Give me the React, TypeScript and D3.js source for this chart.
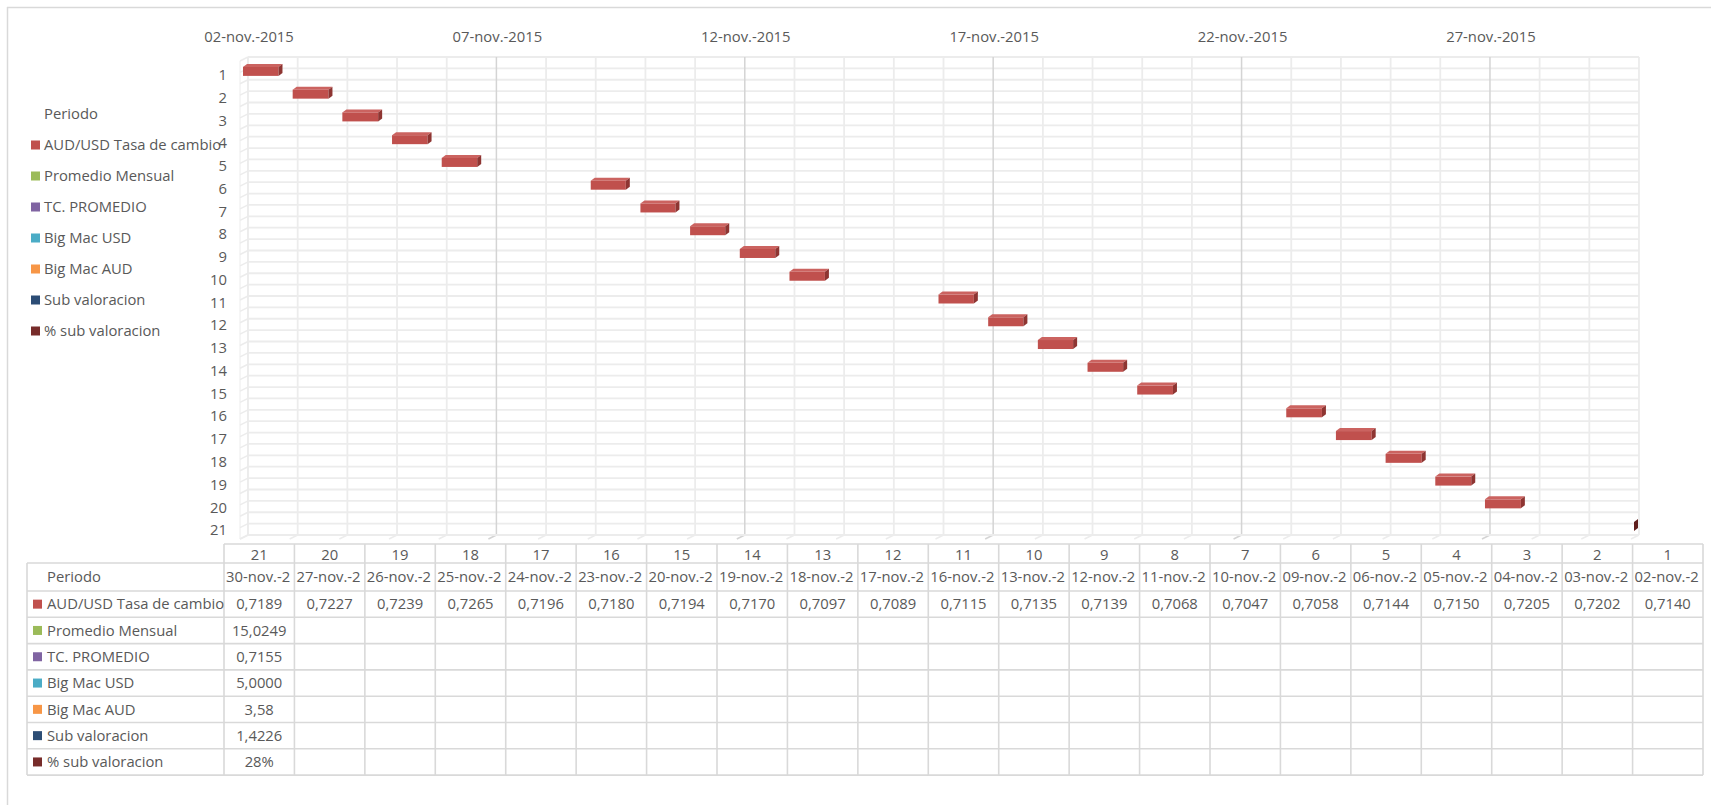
import React from "react";
import * as d3 from "d3";

// ---------- DATA ----------
const periods: number[] = [21, 20, 19, 18, 17, 16, 15, 14, 13, 12, 11, 10, 9, 8, 7, 6, 5, 4, 3, 2, 1];
const dates: string[] = [
  "2015-11-30", "2015-11-27", "2015-11-26", "2015-11-25", "2015-11-24", "2015-11-23", "2015-11-20",
  "2015-11-19", "2015-11-18", "2015-11-17", "2015-11-16", "2015-11-13", "2015-11-12", "2015-11-11",
  "2015-11-10", "2015-11-09", "2015-11-06", "2015-11-05", "2015-11-04", "2015-11-03", "2015-11-02",
];
const audUsd: number[] = [
  0.7189, 0.7227, 0.7239, 0.7265, 0.7196, 0.718, 0.7194, 0.717, 0.7097, 0.7089, 0.7115,
  0.7135, 0.7139, 0.7068, 0.7047, 0.7058, 0.7144, 0.715, 0.7205, 0.7202, 0.714,
];
const seriesNames: string[] = [
  "AUD/USD Tasa de cambio", "Promedio Mensual", "TC. PROMEDIO", "Big Mac USD",
  "Big Mac AUD", "Sub valoracion", "% sub valoracion",
];
const seriesColors: string[] = ["#C0504D", "#9BBB59", "#8064A2", "#4BACC6", "#F79646", "#2C4D75", "#772C2A"];
// single values that exist only for period 21
const singleValues: string[] = ["15,0249", "0,7155", "5,0000", "3,58", "1,4226", "28%"];
const axisStart = "2015-11-02";
const axisEnd = "2015-11-30";
const monthAbbr = "nov.";

// ---------- LAYOUT ----------
const W = 1711;
const H = 805;
const PX0 = 248, PX1 = 1639, PY0 = 57, PY1 = 535;
const FONT = "'Open Sans', sans-serif";
const FS = 14.8;
const TXT = "#595959";
const GRID = "#ececec";
const GRID_MAJ = "#d4d4d4";
const TBL = "#d9d9d9";

const parse = (s: string) => new Date(s + "T00:00:00Z");
const fmtDate = (d: Date) =>
  `${String(d.getUTCDate()).padStart(2, "0")}-${monthAbbr}-${d.getUTCFullYear()}`;
const fmtNum = (v: number) => v.toFixed(4).replace(".", ",");

export default function App() {
  const x = d3.scaleUtc().domain([parse(axisStart), parse(axisEnd)]).range([PX0, PX1]);
  const rows = periods.slice().sort((a, b) => a - b).map(String);
  const y = d3.scaleBand<string>().domain(rows).range([PY0, PY1]);
  const band = y.bandwidth();
  const dayTicks = x.ticks(d3.utcDay.every(1)!);

  const hLines: number[] = [];
  for (let k = 0; k <= rows.length * 2; k++) hLines.push(PY0 + (k * band) / 2);

  const tX0 = 27, cX0 = 224, cX1 = 1703;
  const colW = (cX1 - cX0) / periods.length;
  const hdrTop = 544, hdrBot = 563, perBot = 591, rowH = 26.3;
  const rowTops = seriesNames.map((_, i) => perBot + i * rowH);
  const tBottom = perBot + seriesNames.length * rowH;

  const dx = 4, dy = -3, barH = 9;

  return (
    <svg width={W} height={H} style={{ position: "absolute", left: 0, top: 0, background: "#fff" }} fontFamily={FONT}>
      <line x1={7} y1={7.5} x2={W} y2={7.5} stroke={TBL} strokeWidth={1.5} />
      <line x1={7.5} y1={7} x2={7.5} y2={H} stroke={TBL} strokeWidth={1.5} />

      {hLines.map((yy, k) => (
        <g key={"h" + k}>
          <line x1={PX0} x2={PX1} y1={yy} y2={yy} stroke={GRID} strokeWidth={1.8} />
          <line x1={PX0} x2={PX0 - 8} y1={yy} y2={yy + 4} stroke={GRID} strokeWidth={1.5} />
        </g>
      ))}
      {dayTicks.map((d, i) => {
        const xx = x(d);
        const major = i % 5 === 0 && i > 0;
        return (
          <g key={"v" + i}>
            <line x1={xx} x2={xx} y1={PY0} y2={PY1} stroke={major ? GRID_MAJ : GRID} strokeWidth={major ? 1.5 : 1.8} />
            <line x1={xx} x2={xx - 8} y1={PY1} y2={PY1 + 4} stroke={major ? GRID_MAJ : GRID} strokeWidth={1.5} />
          </g>
        );
      })}
      <line x1={PX0} x2={PX0} y1={PY0} y2={PY1} stroke={GRID} strokeWidth={1.8} />
      <line x1={PX0} x2={PX1} y1={PY1} y2={PY1} stroke={GRID} strokeWidth={1.8} />
      <line x1={PX0 - 8} x2={PX0 - 8} y1={PY0 + 4} y2={PY1 + 4} stroke={GRID} strokeWidth={1} />

      {dayTicks.filter((_, i) => i % 5 === 0).map((d, i) => (
        <text key={"t" + i} x={x(d) + 1} y={37} dy="0.35em" textAnchor="middle" fontSize={FS} fill={TXT}>
          {fmtDate(d)}
        </text>
      ))}

      {rows.map((r) => (
        <text key={"c" + r} x={227} y={(y(r) as number) + band / 2 + 6.5} dy="0.35em" textAnchor="end" fontSize={FS} fill={TXT}>
          {r}
        </text>
      ))}

      {periods.map((p, j) => {
        const start = parse(dates[j]);
        const end = new Date(start.getTime() + audUsd[j] * 86400000);
        const sx = x(start);
        const ex = Math.min(x(end), PX1);
        const w = Math.max(0, ex - sx);
        const fx = sx - 5;
        const fy = (y(String(p)) as number) + band / 2 + 3 - barH / 2;
        const clipped = x(end) > PX1;
        const top = `${fx},${fy} ${fx + dx},${fy + dy} ${fx + w + dx},${fy + dy} ${fx + w},${fy}`;
        const side = `${fx + w},${fy} ${fx + w + dx},${fy + dy} ${fx + w + dx},${fy + barH + dy} ${fx + w},${fy + barH}`;
        return (
          <g key={"b" + j}>
            {w > 0 && <rect x={fx} y={fy} width={w} height={barH} fill={seriesColors[0]} />}
            {w > 0 && <polygon points={top} fill="#CB6360" />}
            <polygon points={side} fill={clipped ? "#5e1d1b" : "#8E3532"} />
          </g>
        );
      })}

      <text x={44} y={114} dy="0.35em" fontSize={FS} fill={TXT}>Periodo</text>
      {seriesNames.map((s, i) => (
        <g key={"l" + i}>
          <rect x={31} y={145 + i * 31 - 4.5} width={9} height={9} fill={seriesColors[i]} />
          <text x={44} y={145 + i * 31} dy="0.35em" fontSize={FS} fill={TXT}>{s}</text>
        </g>
      ))}

      <g stroke={TBL} strokeWidth={1.6} fill="none">
        <line x1={cX0} x2={cX1} y1={hdrTop} y2={hdrTop} />
        <line x1={tX0} x2={cX1} y1={hdrBot} y2={hdrBot} />
        <line x1={tX0} x2={cX1} y1={perBot} y2={perBot} />
        {rowTops.map((t, i) => (
          <line key={"rl" + i} x1={tX0} x2={cX1} y1={t + rowH} y2={t + rowH} />
        ))}
        <line x1={tX0} x2={tX0} y1={hdrBot} y2={tBottom} />
        {periods.map((_, j) => (
          <line key={"cl" + j} x1={cX0 + j * colW} x2={cX0 + j * colW} y1={hdrTop} y2={tBottom} />
        ))}
        <line x1={cX1} x2={cX1} y1={hdrTop} y2={tBottom} />
      </g>
      {periods.map((p, j) => {
        const cx = cX0 + j * colW;
        return (
          <g key={"col" + j} fontSize={FS} fill={TXT}>
            <text x={cx + colW / 2} y={(hdrTop + hdrBot) / 2 + 1} dy="0.35em" textAnchor="middle">{p}</text>
            <text x={cx + 2} y={(hdrBot + perBot) / 2} dy="0.35em">{fmtDate(parse(dates[j])).slice(0, 9)}</text>
            <text x={cx + colW / 2} y={rowTops[0] + rowH / 2} dy="0.35em" textAnchor="middle">{fmtNum(audUsd[j])}</text>
            {j === 0 &&
              singleValues.map((v, i) => (
                <text key={"sv" + i} x={cx + colW / 2} y={rowTops[i + 1] + rowH / 2} dy="0.35em" textAnchor="middle">{v}</text>
              ))}
          </g>
        );
      })}
      <text x={47} y={(hdrBot + perBot) / 2} dy="0.35em" fontSize={FS} fill={TXT}>Periodo</text>
      {seriesNames.map((s, i) => (
        <g key={"tl" + i}>
          <rect x={33} y={rowTops[i] + rowH / 2 - 4.5} width={9} height={9} fill={seriesColors[i]} />
          <text x={47} y={rowTops[i] + rowH / 2} dy="0.35em" fontSize={FS} fill={TXT}>{s}</text>
        </g>
      ))}
    </svg>
  );
}
